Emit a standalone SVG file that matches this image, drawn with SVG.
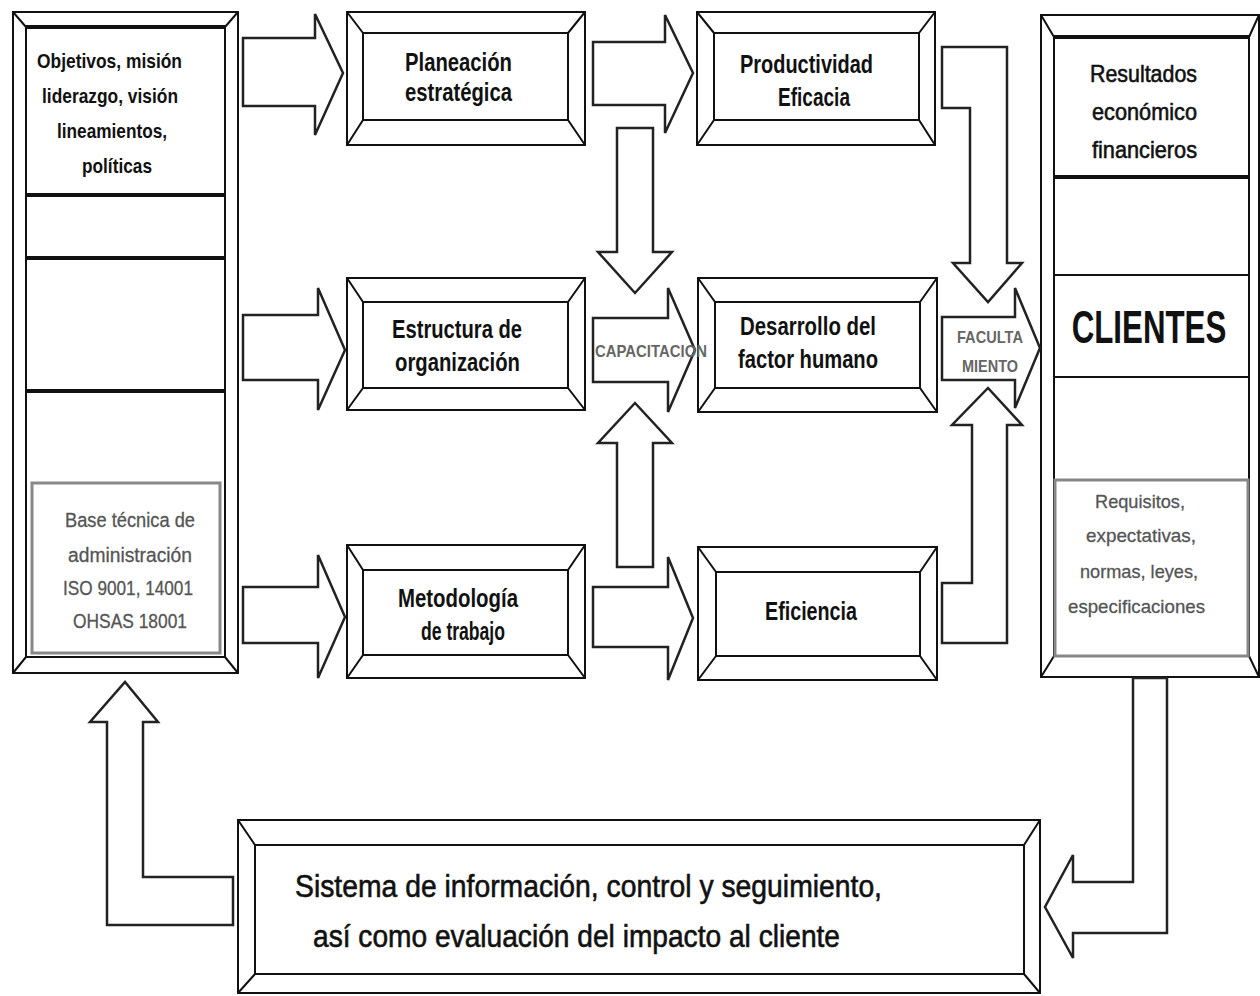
<svg xmlns="http://www.w3.org/2000/svg" width="1260" height="996" viewBox="0 0 1260 996">
<style>
.frame{fill:#fff;stroke:#111;stroke-width:2}
.bev{fill:none;stroke:#111;stroke-width:2}
.thick{stroke:#111;stroke-width:4}
.thin{stroke:#111;stroke-width:2}
.gbox{fill:none;stroke:#888;stroke-width:3}
.arr{fill:#fff;stroke:#222;stroke-width:2.5;stroke-linejoin:miter}
text{font-family:"Liberation Sans",Arial,sans-serif}
.b{font-weight:bold;fill:#111}
.n{font-weight:normal;fill:#111;stroke:#111;stroke-width:0.6}
.g{font-weight:normal;fill:#555;stroke:#555;stroke-width:0.3}
.ga{font-weight:bold;fill:#666}
</style>
<rect width="1260" height="996" fill="#fff"/>

<g id="left-panel">
  <rect class="frame" x="13" y="12" width="225" height="661"/>
  <rect class="bev" x="26" y="27" width="199" height="630"/>
  <path class="bev" d="M13,12 L26,27 M238,12 L225,27 M13,673 L26,657 M238,673 L225,657"/>
  <line class="thick" x1="26" y1="27" x2="225" y2="27"/>
  <line class="thick" x1="26" y1="195" x2="225" y2="195"/>
  <line class="thick" x1="26" y1="258" x2="225" y2="258"/>
  <line class="thick" x1="26" y1="391" x2="225" y2="391"/>
  <rect class="gbox" x="32" y="483" width="188" height="170"/>
  <text class="b" x="37" y="68" font-size="21" textLength="145" lengthAdjust="spacingAndGlyphs">Objetivos, misión</text>
  <text class="b" x="42" y="103" font-size="21" textLength="136" lengthAdjust="spacingAndGlyphs">liderazgo, visión</text>
  <text class="b" x="57" y="138" font-size="21" textLength="110" lengthAdjust="spacingAndGlyphs">lineamientos,</text>
  <text class="b" x="82" y="173" font-size="21" textLength="70" lengthAdjust="spacingAndGlyphs">políticas</text>
  <text class="g" x="65" y="527" font-size="20" textLength="130" lengthAdjust="spacingAndGlyphs">Base técnica de</text>
  <text class="g" x="68" y="562" font-size="20" textLength="124" lengthAdjust="spacingAndGlyphs">administración</text>
  <text class="g" x="63" y="595" font-size="20" textLength="130" lengthAdjust="spacingAndGlyphs">ISO 9001, 14001</text>
  <text class="g" x="73" y="628" font-size="20" textLength="114" lengthAdjust="spacingAndGlyphs">OHSAS 18001</text>
</g>

<g id="planeacion">
  <rect class="frame" x="347" y="12" width="238" height="133"/>
  <rect class="bev" x="363" y="33" width="205" height="87"/>
  <path class="bev" d="M347,12 L363,33 M585,12 L568,33 M347,145 L363,120 M585,145 L568,120"/>
  <text class="b" x="405" y="71" font-size="25" textLength="107" lengthAdjust="spacingAndGlyphs">Planeación</text>
  <text class="b" x="405" y="101" font-size="25" textLength="107" lengthAdjust="spacingAndGlyphs">estratégica</text>
</g>

<g id="productividad">
  <rect class="frame" x="697" y="12" width="238" height="133"/>
  <rect class="bev" x="714" y="33" width="205" height="87"/>
  <path class="bev" d="M697,12 L714,33 M935,12 L919,33 M697,145 L714,120 M935,145 L919,120"/>
  <text class="b" x="740" y="73" font-size="25" textLength="133" lengthAdjust="spacingAndGlyphs">Productividad</text>
  <text class="b" x="778" y="106" font-size="25" textLength="72" lengthAdjust="spacingAndGlyphs">Eficacia</text>
</g>

<g id="estructura">
  <rect class="frame" x="347" y="278" width="238" height="132"/>
  <rect class="bev" x="363" y="302" width="205" height="86"/>
  <path class="bev" d="M347,278 L363,302 M585,278 L568,302 M347,410 L363,388 M585,410 L568,388"/>
  <text class="b" x="392" y="338" font-size="25" textLength="130" lengthAdjust="spacingAndGlyphs">Estructura de</text>
  <text class="b" x="395" y="371" font-size="25" textLength="125" lengthAdjust="spacingAndGlyphs">organización</text>
</g>

<g id="desarrollo">
  <rect class="frame" x="698" y="278" width="239" height="134"/>
  <rect class="bev" x="715" y="302" width="205" height="86"/>
  <path class="bev" d="M698,278 L715,302 M937,278 L920,302 M698,412 L715,388 M937,412 L920,388"/>
  <text class="b" x="740" y="335" font-size="25" textLength="136" lengthAdjust="spacingAndGlyphs">Desarrollo del</text>
  <text class="b" x="738" y="368" font-size="25" textLength="140" lengthAdjust="spacingAndGlyphs">factor humano</text>
</g>

<g id="metodologia">
  <rect class="frame" x="347" y="545" width="238" height="133"/>
  <rect class="bev" x="363" y="570" width="205" height="85"/>
  <path class="bev" d="M347,545 L363,570 M585,545 L568,570 M347,678 L363,655 M585,678 L568,655"/>
  <text class="b" x="398" y="607" font-size="25" textLength="120" lengthAdjust="spacingAndGlyphs">Metodología</text>
  <text class="b" x="421" y="640" font-size="25" textLength="84" lengthAdjust="spacingAndGlyphs">de trabajo</text>
</g>

<g id="eficiencia">
  <rect class="frame" x="698" y="547" width="239" height="133"/>
  <rect class="bev" x="716" y="572" width="204" height="84"/>
  <path class="bev" d="M698,547 L716,572 M937,547 L920,572 M698,680 L716,656 M937,680 L920,656"/>
  <text class="b" x="765" y="620" font-size="25" textLength="92" lengthAdjust="spacingAndGlyphs">Eficiencia</text>
</g>

<g id="right-panel">
  <rect class="frame" x="1041" y="15" width="218" height="662"/>
  <rect class="bev" x="1054" y="37" width="195" height="619"/>
  <path class="bev" d="M1041,15 L1054,37 M1259,15 L1249,37 M1041,677 L1054,656 M1259,677 L1249,656"/>
  <line class="thick" x1="1054" y1="37" x2="1249" y2="37"/>
  <line class="thick" x1="1054" y1="177" x2="1249" y2="177"/>
  <line class="thin" x1="1054" y1="275" x2="1249" y2="275"/>
  <line class="thin" x1="1054" y1="377" x2="1249" y2="377"/>
  <rect class="gbox" x="1055" y="480" width="193" height="176"/>
  <text class="n" x="1090" y="82" font-size="24" textLength="107" lengthAdjust="spacingAndGlyphs">Resultados</text>
  <text class="n" x="1092" y="120" font-size="24" textLength="105" lengthAdjust="spacingAndGlyphs">económico</text>
  <text class="n" x="1092" y="158" font-size="24" textLength="105" lengthAdjust="spacingAndGlyphs">financieros</text>
  <text class="b" transform="translate(1149,343) scale(0.68,1)" x="0" y="0" font-size="46" text-anchor="middle">CLIENTES</text>
  <text class="g" x="1095" y="508" font-size="19" textLength="90" lengthAdjust="spacingAndGlyphs">Requisitos,</text>
  <text class="g" x="1086" y="542" font-size="19" textLength="110" lengthAdjust="spacingAndGlyphs">expectativas,</text>
  <text class="g" x="1080" y="578" font-size="19" textLength="118" lengthAdjust="spacingAndGlyphs">normas, leyes,</text>
  <text class="g" x="1068" y="613" font-size="19" textLength="137" lengthAdjust="spacingAndGlyphs">especificaciones</text>
</g>

<g id="sistema">
  <rect class="frame" x="238" y="820" width="802" height="173"/>
  <rect class="bev" x="255" y="845" width="769" height="129"/>
  <path class="bev" d="M238,820 L255,845 M1040,820 L1024,845 M238,993 L255,974 M1040,993 L1024,974"/>
  <text class="n" x="295" y="897" font-size="31" textLength="587" lengthAdjust="spacingAndGlyphs">Sistema de información, control y seguimiento,</text>
  <text class="n" x="313" y="947" font-size="31" textLength="527" lengthAdjust="spacingAndGlyphs">así como evaluación del impacto al cliente</text>
</g>

<g id="connectors">
  <path class="arr" d="M243,38 H315 V14 L343,73 L315,135 V106 H243 Z"/>
  <path class="arr" d="M243,315 H318 V288 L345,350 L318,410 V380 H243 Z"/>
  <path class="arr" d="M243,587 H318 V555 L345,617 L318,678 V643 H243 Z"/>
  <path class="arr" d="M593,42 H665 V15 L693,73 L665,133 V105 H593 Z"/>
  <path class="arr" d="M593,587 H668 V557 L693,618 L668,680 V647 H593 Z"/>
  <path class="arr" d="M942,317 H1015 V288 L1040,348 L1015,408 V380 H942 Z"/>
  <path class="arr" d="M593,318 H668 V288 L695,350 L668,412 V382 H593 Z"/>
  <path class="arr" d="M617,128 H653 V252 H672 L635,293 L598,252 H617 Z"/>
  <path class="arr" d="M617,567 V443 H598 L635,403 L672,443 H653 V567 Z"/>
  <path class="arr" d="M942,47 H1007 V263 H1022 L988,302 L953,263 H970 V108 H942 Z"/>
  <path class="arr" d="M942,583 H972 V425 H952 L988,388 L1022,425 H1007 V643 H942 Z"/>
  <path class="arr" d="M1133,678 V882 H1073 V855 L1045,907 L1073,958 V933 H1167 V678 Z"/>
  <path class="arr" d="M233,877 H143 V722 H158 L125,682 L90,722 H107 V925 H233 Z"/>
  <text class="ga" x="595" y="357" font-size="17" textLength="112" lengthAdjust="spacingAndGlyphs">CAPACITACION</text>
  <text class="ga" x="957" y="343" font-size="17" textLength="66" lengthAdjust="spacingAndGlyphs">FACULTA</text>
  <text class="ga" x="962" y="372" font-size="17" textLength="56" lengthAdjust="spacingAndGlyphs">MIENTO</text>
</g>
</svg>
